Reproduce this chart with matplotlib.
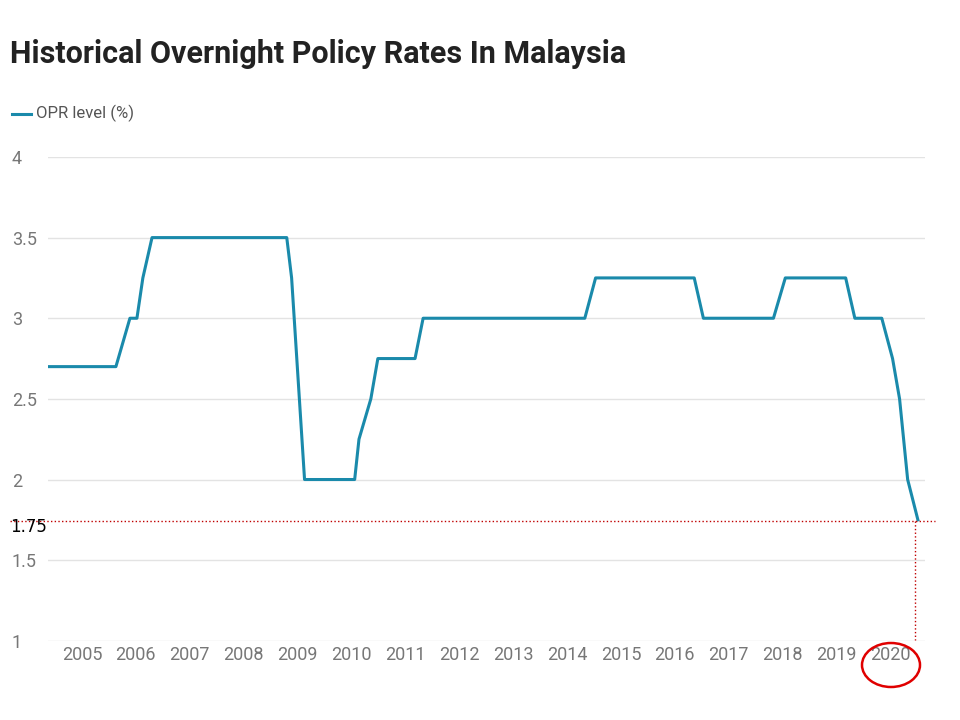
import matplotlib
matplotlib.use("Agg")
import matplotlib.pyplot as plt
from matplotlib.patches import Ellipse

plt.rcParams['font.family'] = ['Liberation Sans Narrow', 'Roboto', 'DejaVu Sans']

years = [2004.37, 2005.63, 2005.89, 2006.02, 2006.13, 2006.30, 2008.80, 2008.89, 2009.13,
         2010.06, 2010.14, 2010.36, 2010.49, 2011.18, 2011.33, 2014.33, 2014.53, 2016.36,
         2016.53, 2017.83, 2018.05, 2019.17, 2019.34, 2019.84, 2020.04, 2020.17, 2020.32, 2020.51]
opr = [2.7, 2.7, 3.0, 3.0, 3.25, 3.5, 3.5, 3.25, 2.0,
       2.0, 2.25, 2.5, 2.75, 2.75, 3.0, 3.0, 3.25, 3.25,
       3.0, 3.0, 3.25, 3.25, 3.0, 3.0, 2.75, 2.5, 2.0, 1.75]
tick_years = list(range(2005, 2021))
yticks = [1, 1.5, 2, 2.5, 3, 3.5, 4]

fig = plt.figure(figsize=(9.6, 7.2), dpi=100)
ax = fig.add_axes([0.05, 0.11, 0.914, 0.672])
ax.plot(years, opr, color="#1a8aab", lw=2.2)
ax.set_xlim(2004.37, 2020.65)
ax.set_ylim(1, 4)
ax.set_yticks(yticks)
ax.set_yticklabels(["1", "1.5", "2", "2.5", "3", "3.5", "4"])
ax.set_xticks(tick_years)
ax.tick_params(length=0, labelsize=13, colors="#777777")
ax.tick_params(axis="y", pad=26)
for lab in ax.get_yticklabels():
    lab.set_horizontalalignment("left")
ax.grid(axis="y", color="#e3e3e3", lw=1)
for s in ax.spines.values():
    s.set_visible(False)
ax.set_axisbelow(True)

fig.text(0.01, 0.925, "Historical Overnight Policy Rates In Malaysia", fontsize=22,
         fontweight="bold", color="#222222", va="center")
fig.lines.append(plt.Line2D([0.012, 0.032], [0.842, 0.842], color="#1a8aab", lw=2.2, transform=fig.transFigure))
fig.text(0.037, 0.842, "OPR level (%)", fontsize=12, color="#555555", va="center")

# annotations
fig.lines.append(plt.Line2D([0.01, 0.974], [1-521/720, 1-521/720], color="#c00000", lw=1, ls=":", transform=fig.transFigure))
fig.lines.append(plt.Line2D([915/960, 915/960], [1-521/720, 1-640/720], color="#c00000", lw=1, ls=":", transform=fig.transFigure))
fig.text(0.011, 1-527/720, "1.75", fontsize=12, color="black", va="center", family="DejaVu Sans")
fig.patches.append(Ellipse((891/960, 1-665/720), 58/960, 44/720, transform=fig.transFigure,
                           fill=False, edgecolor="#e00000", lw=1.8))
fig.savefig("out.png", dpi=100)
